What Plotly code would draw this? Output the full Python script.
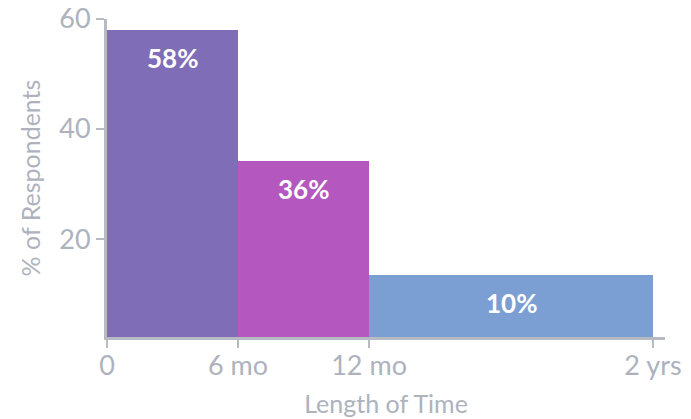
import plotly.graph_objects as go

# Data
bin_starts = [0, 6, 12]
bin_ends = [6, 12, 25]
heights = [58, 34.2, 13.5]
bar_labels = ["58%", "36%", "10%"]
bar_colors = ["#7f6db8", "#b457bf", "#7b9fd3"]
x_tick_vals = [0, 6, 12, 25]
x_tick_text = ["0", "6 mo", "12 mo", "2 yrs"]
y_tick_vals = [20, 40, 60]

FONT = "Lato"
GRAY = "#aeb2bd"
AXIS = "#b6bac3"

centers = [(a + b) / 2 for a, b in zip(bin_starts, bin_ends)]
widths = [b - a for a, b in zip(bin_starts, bin_ends)]

fig = go.Figure()
fig.add_trace(go.Bar(
    x=centers, y=heights, width=widths,
    marker=dict(color=bar_colors, line=dict(width=0)),
    hoverinfo="skip",
))

for cx, h, lab in zip(centers, heights, bar_labels):
    fig.add_annotation(x=cx, y=h, text=f"<b>{lab}</b>", showarrow=False,
                       yshift=-28, font=dict(family=FONT, size=26, color="white"))

fig.update_layout(
    width=691, height=419,
    margin=dict(l=107, r=26, t=19, b=82),
    paper_bgcolor="white", plot_bgcolor="white",
    showlegend=False, bargap=0,
    font=dict(family=FONT, color=GRAY),
)
fig.update_xaxes(
    range=[0, 25.55], tickvals=x_tick_vals, ticktext=x_tick_text,
    showgrid=False, zeroline=False, automargin=False,
    showline=True, linecolor=AXIS, linewidth=3,
    ticks="outside", ticklen=8, tickwidth=2, tickcolor=AXIS,
    ticklabelstandoff=-5,
    tickfont=dict(family=FONT, size=27, color=GRAY),
    title=dict(text="Length of Time", font=dict(family=FONT, size=25, color=GRAY), standoff=16),
)
fig.update_yaxes(
    range=[2.2, 60], tickvals=y_tick_vals,
    showgrid=False, zeroline=False, automargin=False,
    showline=True, linecolor=AXIS, linewidth=3,
    ticks="outside", ticklen=8, tickwidth=2, tickcolor=AXIS,
    tickfont=dict(family=FONT, size=27, color=GRAY),
    title=dict(text="% of Respondents", font=dict(family=FONT, size=25, color=GRAY), standoff=12),
)

fig.write_html("out.html")
